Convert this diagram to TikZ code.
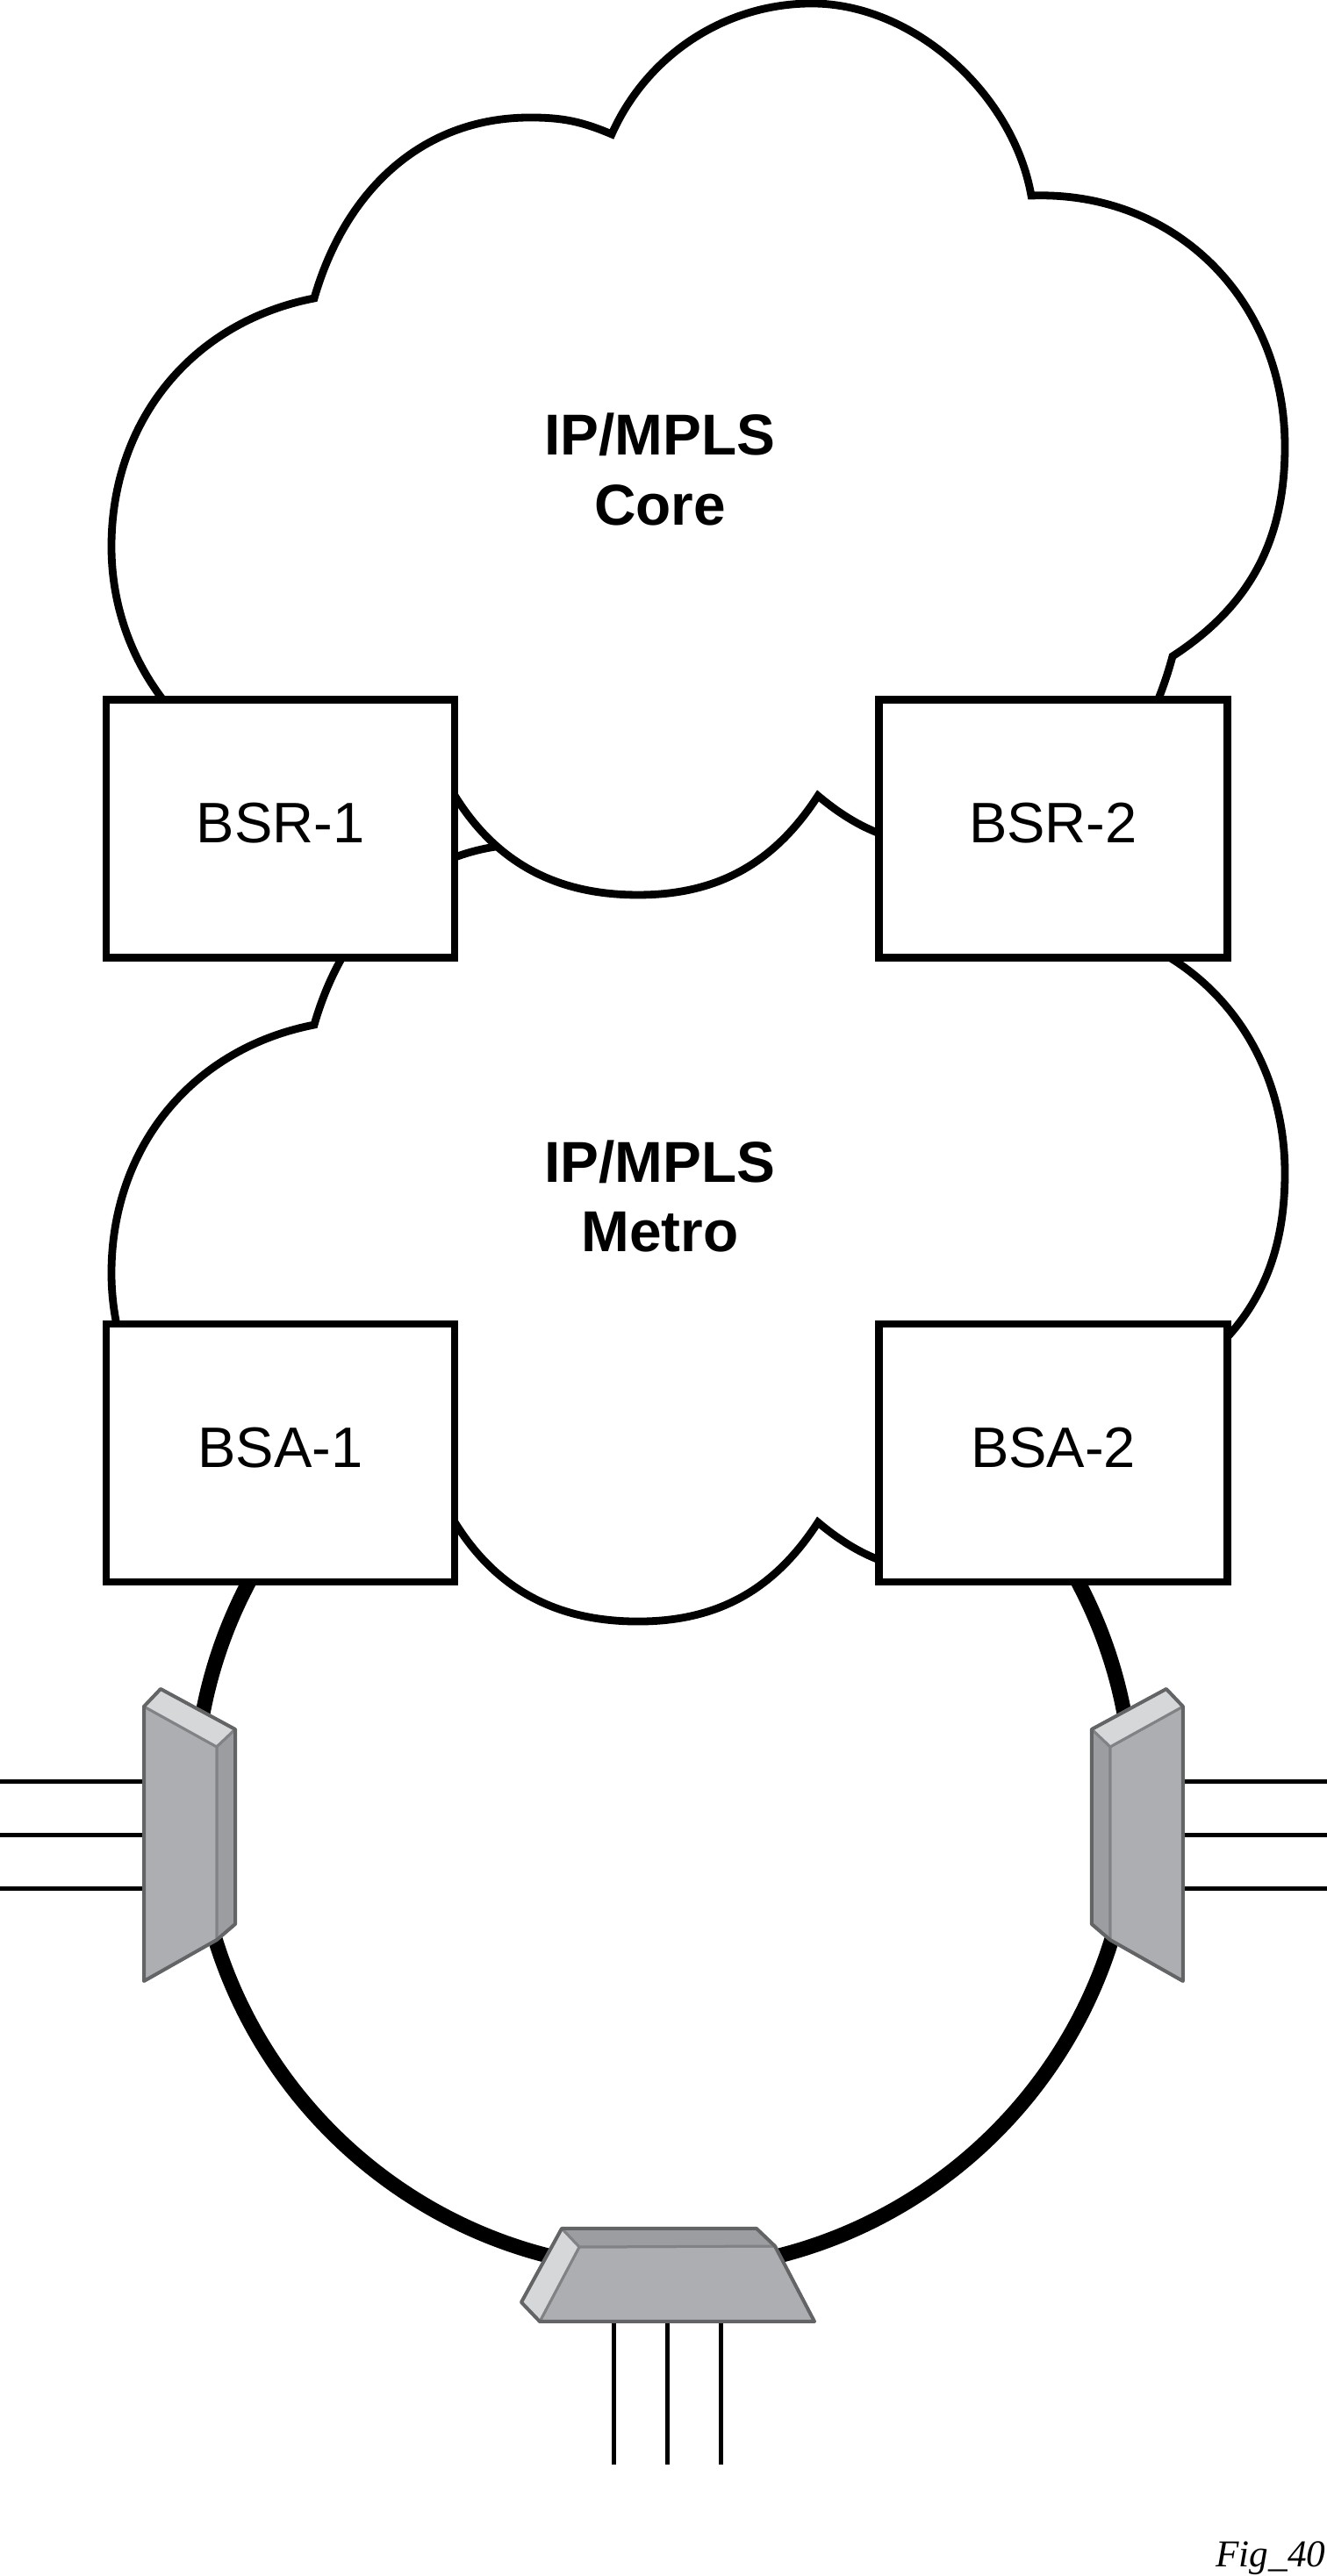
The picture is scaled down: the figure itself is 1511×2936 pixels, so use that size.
\documentclass[tikz,border=0pt]{standalone}
\usepackage{fontspec}
\setmainfont{Liberation Sans}
\newfontfamily\figfont{Liberation Serif}
\usetikzlibrary{calc}
\definecolor{edgegrey}{HTML}{636466}
\definecolor{linegrey}{HTML}{808285}
\definecolor{frontgrey}{HTML}{ADAEB1}
\definecolor{sidegrey}{HTML}{9C9DA0}
\definecolor{topgrey}{HTML}{D6D7D9}
\tikzstyle{cloudline}=[line width=0.088cm,draw=black,fill=white,line join=miter]
\tikzstyle{cloudtext}=[font=\fontsize{18.7}{22.5}\selectfont\bfseries,align=center,inner sep=0pt]
\tikzstyle{router}=[draw=black,fill=white,line width=0.087cm,minimum width=3.965cm,minimum height=2.94cm,font=\fontsize{18.5}{22.5}\selectfont,text height=0.47cm,text depth=0.14cm,inner sep=0pt]
\tikzstyle{ringline}=[draw=black,line width=0.17cm,circle,minimum size=10.68cm,inner sep=0pt]
\tikzstyle{portline}=[line width=0.05cm,draw=black]
\tikzstyle{face}=[line width=0.03cm,draw=linegrey,line join=round]
\tikzstyle{edge}=[line width=0.04cm,draw=edgegrey,line join=round]
% one lobed cloud, top cloud coordinates
\newcommand{\cloudpath}{(358,2596)
 to[out=74,in=180] (604,2802)
 to[out=0,in=157] (697,2783)
 to[out=66,in=180,looseness=0.93] (925,2932)
 to[out=0,in=100,looseness=0.9] (1175,2713)
 to[out=2,in=90,looseness=1.04] (1464,2427)
 to[out=-90,in=33] (1336,2188)
 to[out=-105,in=0] (1100,1971)
 to[out=180,in=-40] (932,2029)
 to[out=-123,in=0] (727,1916)
 to[out=180,in=-61] (510,2043)
 to[out=200,in=0] (415,2025)
 to[out=180,in=-90] (127,2313)
 to[out=90,in=191] (358,2596) -- cycle}
% device on the ring, ports to the left
\newcommand{\sidedevice}{
	\coordinate (PA) at (163,905.5);
	\coordinate (PB) at (163,844.5);
	\coordinate (PC) at (163,783.5);
	\coordinate (EA) at (0,905.5);
	\coordinate (EB) at (0,844.5);
	\coordinate (EC) at (0,783.5);
	\draw[portline] (EA)--(PA);
	\draw[portline] (EB)--(PB);
	\draw[portline] (EC)--(PC);
	\coordinate (A) at (164,991);
	\coordinate (B) at (247,945);
	\coordinate (C) at (247,725);
	\coordinate (D) at (164,678);
	\coordinate (E) at (183,1011);
	\coordinate (F) at (268,965);
	\coordinate (G) at (268,743);
	\draw[face,fill=frontgrey] (A)--(B)--(C)--(D)--cycle;
	\draw[face,fill=topgrey] (A)--(E)--(F)--(B)--cycle;
	\draw[face,fill=sidegrey] (B)--(F)--(G)--(C)--cycle;
	\draw[edge] (A)--(E)--(F)--(G)--(C)--(D)--cycle;
}
\begin{document}
\begin{tikzpicture}[x=0.01cm,y=0.01cm]
\useasboundingbox (0,0) rectangle (1511,2936);
\node[ringline] (ring) at (756,883) {};
% metro cloud is the core cloud moved down
\begin{scope}[yshift=-8.276cm]
	\draw[cloudline] \cloudpath;
	\node[cloudtext] (metrotext) at (752,2401) {IP/MPLS\\Metro};
\end{scope}
\draw[cloudline] \cloudpath;
\node[cloudtext] (coretext) at (752,2401) {IP/MPLS\\Core};
\node[router] (bsr1) at (319.5,1991.5) {BSR-1};
\node[router] (bsr2) at (1200,1991.5) {BSR-2};
\node[router] (bsa1) at (319.5,1280) {BSA-1};
\node[router] (bsa2) at (1200,1280) {BSA-2};
\begin{scope}
	\sidedevice
\end{scope}
\begin{scope}[xshift=15.11cm,xscale=-1]
	\sidedevice
\end{scope}
% bottom device
\coordinate (PA) at (699,290);
\coordinate (PB) at (760,290);
\coordinate (PC) at (821,290);
\coordinate (EA) at (699,127);
\coordinate (EB) at (760,127);
\coordinate (EC) at (821,127);
\draw[portline] (PA)--(EA);
\draw[portline] (PB)--(EB);
\draw[portline] (PC)--(EC);
\coordinate (P) at (640,396);
\coordinate (Q) at (862,396);
\coordinate (R) at (883,376);
\coordinate (S) at (928,290);
\coordinate (T) at (615,290);
\coordinate (U) at (594,312);
\coordinate (V) at (660,375);
\draw[face,fill=frontgrey] (V)--(R)--(S)--(T)--cycle;
\draw[face,fill=sidegrey] (P)--(Q)--(R)--(V)--cycle;
\draw[face,fill=topgrey] (P)--(V)--(T)--(U)--cycle;
\draw[edge] (P)--(Q)--(R)--(S)--(T)--(U)--cycle;
\node[font=\figfont\itshape\fontsize{12.3}{14}\selectfont,anchor=base east,inner sep=0pt] (figlabel) at (1511,10.3) {Fig\_40};
\end{tikzpicture}
\end{document}
